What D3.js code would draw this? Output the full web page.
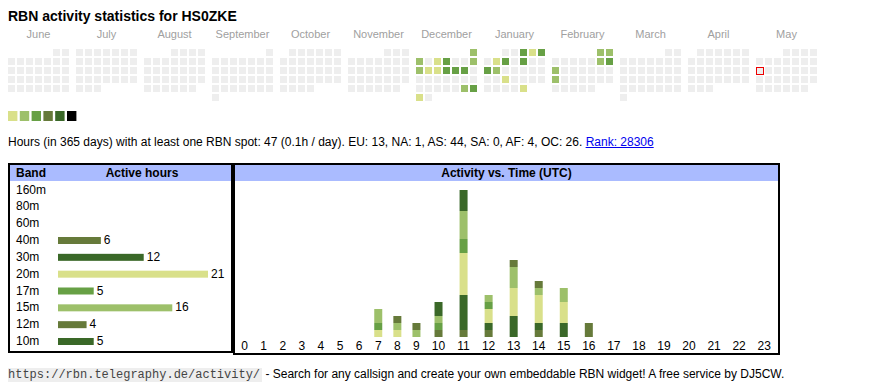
<!DOCTYPE html>
<html>
<head>
<meta charset="utf-8">
<script src="https://cdn.jsdelivr.net/npm/d3@7"></script>
<style>
  body { margin: 0; background: #fff; }
  text { font-family: Arial, "Liberation Sans", sans-serif; }
  text.mono { font-family: "Liberation Mono", "Courier New", "DejaVu Sans Mono", monospace; }
</style>
</head>
<body>
<div id="chart"></div>
<script>
// ---- data ----
var callsign = "HS0ZKE";
var monthNames = ["June","July","August","September","October","November","December","January","February","March","April","May"];
var firstMonth = new Date(2024, 5, 1);
var today = new Date(2025, 4, 12);

// active days: [date, activity level 1..6]
var activeDays = [
  ["2024-12-01",2],["2024-12-02",2],["2024-12-04",1],["2024-12-05",3],["2024-12-08",2],
  ["2024-12-09",2],["2024-12-10",1],["2024-12-11",1],["2024-12-12",3],["2024-12-13",3],
  ["2024-12-14",3],["2024-12-28",2],["2024-12-29",3],["2024-12-30",1],
  ["2025-01-03",3],["2025-01-04",1],["2025-01-05",3],["2025-01-07",1],["2025-01-08",3],
  ["2025-01-10",3],["2025-01-13",3],["2025-01-14",2],["2025-01-22",1],["2025-01-31",1],
  ["2025-02-01",2],["2025-02-02",2],["2025-02-08",2],["2025-02-09",3],["2025-02-10",2],
  ["2025-02-17",2]
];

var totalHours = 47;
var continents = ["EU","NA","AS","SA","AF","OC"];
var continentHours = [13, 1, 44, 0, 4, 26];
var rank = 28306;

var bands = ["160m","80m","60m","40m","30m","20m","17m","15m","12m","10m"];
var bandHours = [0, 0, 0, 6, 12, 21, 5, 16, 4, 5];

var hours = d3.range(24);
// hours per band per UTC hour (0..23)
var hourly = {
  "40m": [0,0,0,0,0,0,0,0,0,0,1,1,1,0,1,0,2,0,0,0,0,0,0,0],
  "30m": [0,0,0,0,0,0,0,0,0,0,0,5,1,3,1,2,0,0,0,0,0,0,0,0],
  "20m": [0,0,0,0,0,0,0,1,1,0,0,6,2,4,4,3,0,0,0,0,0,0,0,0],
  "17m": [0,0,0,0,0,0,0,1,0,0,1,2,1,0,0,0,0,0,0,0,0,0,0,0],
  "15m": [0,0,0,0,0,0,0,2,1,1,1,4,1,3,1,2,0,0,0,0,0,0,0,0],
  "12m": [0,0,0,0,0,0,0,0,1,1,0,0,0,1,1,0,0,0,0,0,0,0,0,0],
  "10m": [0,0,0,0,0,0,0,0,0,0,2,3,0,0,0,0,0,0,0,0,0,0,0,0]
};
var stackBands = ["40m","30m","20m","17m","15m","12m","10m"];

// ---- styles ----
var levelColors = ["#d9e08a","#9dc06a","#67a045","#667a3a","#3a6828","#000000"];
var bandColor = d3.scaleOrdinal()
  .domain(["160m","80m","60m","40m","30m","20m","17m","15m","12m","10m"])
  .range(["#d9e08a","#9dc06a","#67a045","#667a3a","#3a6828","#d9e08a","#67a045","#9dc06a","#667a3a","#3a6828"]);

var W = 870, H = 390;
var svg = d3.select("#chart").append("svg")
  .attr("width", W).attr("height", H);

// title
svg.append("text")
  .attr("x", 8).attr("y", 21)
  .attr("font-size", 14).attr("font-weight", "bold")
  .text("RBN activity statistics for " + callsign);

// ---- calendar ----
var cell = 7, pitch = 9;
var monthX = d3.scaleLinear().domain([0, 12]).range([8, 8 + 12 * 68]);
var levelByDay = new Map(activeDays.map(function(d){ return [d[0], d[1]]; }));
var fmt = d3.timeFormat("%Y-%m-%d");
var days = d3.timeDay.range(firstMonth, d3.timeMonth.offset(firstMonth, 12));

function dayPos(d) {
  var first = d3.timeMonth.floor(d);
  var m = d3.timeMonth.count(firstMonth, first);
  var firstCol = (first.getDay() + 6) % 7;
  var col = (d.getDay() + 6) % 7;
  var row = Math.floor((d.getDate() - 1 + firstCol) / 7);
  return { x: monthX(m) + col * pitch, y: 49 + row * pitch };
}

svg.append("g").selectAll("text")
  .data(monthNames)
  .join("text")
  .attr("x", function(d, i){ return monthX(i) + (7 * pitch - 2) / 2; })
  .attr("y", 38)
  .attr("text-anchor", "middle")
  .attr("font-size", 11)
  .attr("fill", "#a0a0a0")
  .text(function(d){ return d; });

svg.append("g").selectAll("rect")
  .data(days)
  .join("rect")
  .attr("x", function(d){ return dayPos(d).x; })
  .attr("y", function(d){ return dayPos(d).y; })
  .attr("width", cell).attr("height", cell)
  .attr("fill", function(d){
    var l = levelByDay.get(fmt(d));
    return l ? levelColors[l - 1] : "#eeeeee";
  });

var tp = dayPos(today);
svg.append("rect")
  .attr("x", tp.x + 0.5).attr("y", tp.y + 0.5)
  .attr("width", cell).attr("height", cell)
  .attr("fill", "none").attr("stroke", "#ee0000").attr("stroke-width", 1);

// legend
svg.append("g").selectAll("rect")
  .data(levelColors)
  .join("rect")
  .attr("x", function(d, i){ return 8 + i * 11.8; })
  .attr("y", 111)
  .attr("width", 9.4).attr("height", 10)
  .attr("fill", function(d){ return d; });

// summary line
var summary = "Hours (in 365 days) with at least one RBN spot: " + totalHours +
  " (" + (totalHours / 365).toFixed(1) + "h / day). " +
  continents.map(function(c, i){ return c + ": " + continentHours[i]; }).join(", ") + ". ";
var sumText = svg.append("text")
  .attr("x", 8).attr("y", 146)
  .attr("font-size", 12)
  .attr("xml:space", "preserve")
  .text(summary);
var sumLen = sumText.node().getComputedTextLength();
var rankText = svg.append("text")
  .attr("x", 8 + sumLen).attr("y", 146)
  .attr("font-size", 12).attr("fill", "#0000ee")
  .text("Rank: " + rank);
var rankLen = rankText.node().getComputedTextLength();
svg.append("line")
  .attr("x1", 8 + sumLen).attr("x2", 8 + sumLen + rankLen)
  .attr("y1", 147.5).attr("y2", 147.5)
  .attr("stroke", "#0000ee").attr("stroke-width", 1);

// ---- band table ----
var lb = svg.append("g");
lb.append("rect").attr("x", 10).attr("y", 165).attr("width", 221).attr("height", 16).attr("fill", "#aabbff");
lb.append("rect").attr("x", 9).attr("y", 164).attr("width", 223).attr("height", 188)
  .attr("fill", "none").attr("stroke", "#000").attr("stroke-width", 2);
lb.append("text").attr("x", 16).attr("y", 177).attr("font-size", 12).attr("font-weight", "bold").text("Band");
lb.append("text").attr("x", 142).attr("y", 177).attr("font-size", 12).attr("font-weight", "bold")
  .attr("text-anchor", "middle").text("Active hours");

var rowY = d3.scalePoint().domain(bands).range([193.5, 345]);
var bandX = d3.scaleLinear().domain([0, 21]).range([58, 208]);

lb.append("g").selectAll("text")
  .data(bands)
  .join("text")
  .attr("x", 16)
  .attr("y", function(d){ return rowY(d); })
  .attr("font-size", 12)
  .text(function(d){ return d; });

var bandRows = bands.map(function(b, i){ return { band: b, hours: bandHours[i] }; })
  .filter(function(d){ return d.hours > 0; });

lb.append("g").selectAll("rect")
  .data(bandRows)
  .join("rect")
  .attr("x", bandX(0))
  .attr("y", function(d){ return rowY(d.band) - 7; })
  .attr("width", function(d){ return bandX(d.hours) - bandX(0); })
  .attr("height", 7)
  .attr("fill", function(d){ return bandColor(d.band); });

lb.append("g").selectAll("text")
  .data(bandRows)
  .join("text")
  .attr("x", function(d){ return bandX(d.hours) + 3; })
  .attr("y", function(d){ return rowY(d.band); })
  .attr("font-size", 12)
  .text(function(d){ return d.hours; });

// ---- activity vs time ----
var rb = svg.append("g");
rb.append("rect").attr("x", 235).attr("y", 165).attr("width", 543).attr("height", 16).attr("fill", "#aabbff");
rb.append("rect").attr("x", 234).attr("y", 164).attr("width", 545).attr("height", 190)
  .attr("fill", "none").attr("stroke", "#000").attr("stroke-width", 2);
rb.append("text").attr("x", 506.5).attr("y", 177).attr("font-size", 12).attr("font-weight", "bold")
  .attr("text-anchor", "middle").text("Activity vs. Time (UTC)");

// table-like columns: narrower for one-digit hours
var colW = hours.map(function(h){ return h < 10 ? 19.1 : 25.05; });
var centers = [];
var acc = 235;
colW.forEach(function(w){ centers.push(acc + w / 2); acc += w; });
var hx = d3.scaleOrdinal().domain(hours).range(centers);
var y = d3.scaleLinear().domain([0, 21]).range([337, 190]);

var table = hours.map(function(h){
  var row = { hour: h };
  stackBands.forEach(function(b){ row[b] = hourly[b][h]; });
  return row;
});
var series = d3.stack().keys(stackBands)(table);

rb.append("g").selectAll("g")
  .data(series)
  .join("g")
  .attr("fill", function(d){ return bandColor(d.key); })
  .selectAll("rect")
  .data(function(d){ return d.filter(function(v){ return v[1] > v[0]; }); })
  .join("rect")
  .attr("x", function(d){ return hx(d.data.hour) - 4; })
  .attr("y", function(d){ return y(d[1]); })
  .attr("width", 8)
  .attr("height", function(d){ return y(d[0]) - y(d[1]); });

rb.append("g").selectAll("text")
  .data(hours)
  .join("text")
  .attr("x", function(d){ return hx(d); })
  .attr("y", 350)
  .attr("text-anchor", "middle")
  .attr("font-size", 12)
  .text(function(d){ return d; });

// ---- footer ----
var url = "https://rbn.telegraphy.de/activity/";
var urlBg = svg.append("rect")
  .attr("x", 8).attr("y", 368).attr("height", 14)
  .attr("fill", "#eeeeee");
var urlText = svg.append("text")
  .attr("class", "mono")
  .attr("x", 8).attr("y", 378)
  .attr("font-size", 12).attr("fill", "#444")
  .text(url);
var urlLen = urlText.node().getComputedTextLength();
urlBg.attr("width", urlLen + 2);
svg.append("text")
  .attr("x", 8 + urlLen + 2).attr("y", 378)
  .attr("font-size", 12)
  .attr("xml:space", "preserve")
  .text(" - Search for any callsign and create your own embeddable RBN widget! A free service by DJ5CW.");
</script>
</body>
</html>
